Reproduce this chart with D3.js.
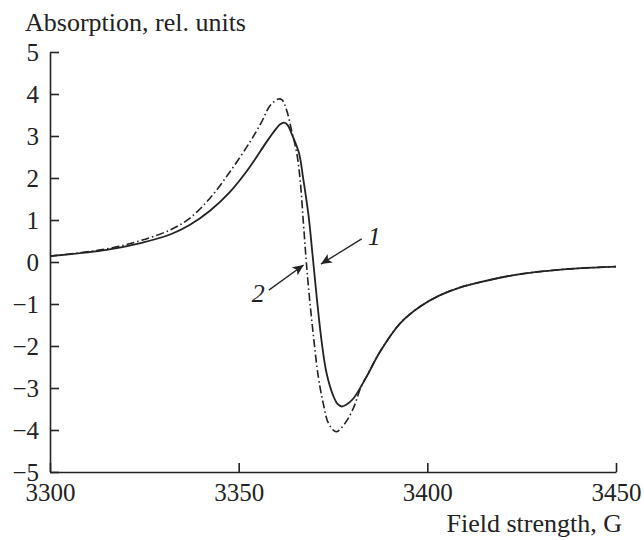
<!DOCTYPE html>
<html>
<head>
<meta charset="utf-8">
<script src="https://cdn.jsdelivr.net/npm/d3@7"></script>
<style>
  body { margin: 0; background: #fff; }
  text { font-family: "Liberation Serif", "Times New Roman", serif; fill: #222; }
  .axis path, .axis line { stroke: #222; stroke-width: 1.6; }
</style>
</head>
<body>
<div id="chart"></div>
<script>
// Data
const xTicks = [3300, 3350, 3400, 3450];
const yTicks = [-5, -4, -3, -2, -1, 0, 1, 2, 3, 4, 5];

// curve 1 (solid)
const field1 = [3300, 3315, 3324, 3332, 3337, 3342.4, 3347.7, 3353, 3357.4, 3360, 3361, 3362, 3363, 3364, 3366, 3367, 3368.5, 3369.6, 3370.7, 3372, 3373.3, 3375, 3376.2, 3377.3, 3378.5, 3380.4, 3383.9, 3387.5, 3392.8, 3398.1, 3403.4, 3408.2, 3414, 3423, 3432, 3440, 3450];
const signal1 = [0.14, 0.29, 0.45, 0.66, 0.88, 1.22, 1.67, 2.27, 2.86, 3.18, 3.28, 3.32, 3.26, 3.06, 2.59, 2.05, 1.12, 0.15, -0.85, -1.9, -2.65, -3.17, -3.38, -3.44, -3.4, -3.25, -2.73, -2.13, -1.46, -1.06, -0.79, -0.62, -0.48, -0.31, -0.21, -0.15, -0.11];

// curve 2 (dash-dot)
const field2 = [3300, 3315, 3324, 3332, 3337, 3342.4, 3347.7, 3353, 3356, 3358.3, 3360.5, 3361.5, 3362.7, 3364, 3365.4, 3366.3, 3367.1, 3367.8, 3368.5, 3369.8, 3371.1, 3372.4, 3373.8, 3375.8, 3378.2, 3380.4, 3382.6, 3383.9, 3387.5, 3392.8, 3398.1, 3403.4, 3408.2, 3414, 3423, 3432, 3440, 3450];
const signal2 = [0.14, 0.31, 0.51, 0.77, 1.04, 1.52, 2.15, 2.86, 3.32, 3.72, 3.88, 3.86, 3.62, 3.14, 2.59, 1.95, 1.0, 0.15, -0.6, -1.75, -2.73, -3.36, -3.84, -4.04, -3.84, -3.48, -2.93, -2.73, -2.13, -1.46, -1.06, -0.79, -0.62, -0.48, -0.31, -0.21, -0.15, -0.11];

// labels with arrows: [label, label x, label y, arrow start x, y, arrow tip x, y]
const callouts = [
  ["1", 3384.2, 0.4, 3382.6, 0.55, 3371.8, -0.05],
  ["2", 3353.5, -0.95, 3358.0, -0.67, 3367.2, -0.07],
];

// Dimensions
let dimensions = {
  width: 644,
  height: 540,
  margins: { top: 52, right: 28, bottom: 68, left: 50 },
  fontSize: 26,
  tickFontSize: 25,
};
dimensions.ctrWidth = dimensions.width - dimensions.margins.left - dimensions.margins.right;
dimensions.ctrHeight = dimensions.height - dimensions.margins.top - dimensions.margins.bottom;

const svg = d3
  .select("#chart")
  .append("svg")
  .attr("width", dimensions.width)
  .attr("height", dimensions.height);

svg.append("defs")
  .append("marker")
  .attr("id", "head")
  .attr("viewBox", "0 0 10 10")
  .attr("refX", 10)
  .attr("refY", 5)
  .attr("markerWidth", 11)
  .attr("markerHeight", 11)
  .attr("markerUnits", "userSpaceOnUse")
  .attr("orient", "auto")
  .append("path")
  .attr("d", "M0,0.5 L10,5 L0,9.5 L2.5,5 Z")
  .attr("fill", "#222");

const ctr = svg
  .append("g")
  .attr("transform", `translate(${dimensions.margins.left}, ${dimensions.margins.top})`);

// Scales
const xScale = d3.scaleLinear().domain([3300, 3450]).range([0, dimensions.ctrWidth]);
const yScale = d3.scaleLinear().domain([-5, 5]).range([dimensions.ctrHeight, 0]);

// Axes (ticks point inwards)
const bottomAxis = d3.axisBottom(xScale)
  .tickValues(xTicks)
  .tickFormat(d3.format("d"))
  .tickSizeInner(-9)
  .tickSizeOuter(0)
  .tickPadding(11);
ctr.append("g")
  .classed("axis", true)
  .attr("transform", `translate(0, ${dimensions.ctrHeight})`)
  .call(bottomAxis);

const leftAxis = d3.axisLeft(yScale)
  .tickValues(yTicks)
  .tickFormat(d3.format("d"))
  .tickSizeInner(-9)
  .tickSizeOuter(0)
  .tickPadding(11);
ctr.append("g")
  .classed("axis", true)
  .call(leftAxis);

ctr.selectAll(".axis")
  .attr("font-family", null)
  .attr("font-size", dimensions.tickFontSize);

// Lines
const line = (xs, ys) =>
  d3.line()
    .x((d, i) => xScale(xs[i]))
    .y((d) => yScale(d))
    .curve(d3.curveCatmullRom.alpha(0.5))(ys);

ctr.append("path")
  .attr("d", line(field2, signal2))
  .attr("fill", "none")
  .attr("stroke", "#222")
  .attr("stroke-width", 1.6)
  .attr("stroke-dasharray", "8 3 1.5 3");

ctr.append("path")
  .attr("d", line(field1, signal1))
  .attr("fill", "none")
  .attr("stroke", "#222")
  .attr("stroke-width", 1.8);

// Callouts
callouts.forEach(([label, lx, ly, x0, y0, x1, y1]) => {
  ctr.append("line")
    .attr("x1", xScale(x0))
    .attr("y1", yScale(y0))
    .attr("x2", xScale(x1))
    .attr("y2", yScale(y1))
    .attr("stroke", "#222")
    .attr("stroke-width", 1.3)
    .attr("marker-end", "url(#head)");
  ctr.append("text")
    .attr("x", xScale(lx))
    .attr("y", yScale(ly))
    .attr("font-size", dimensions.fontSize)
    .attr("font-style", "italic")
    .text(label);
});

// Axis titles
svg.append("text")
  .attr("x", 25)
  .attr("y", 31)
  .attr("font-size", dimensions.fontSize)
  .text("Absorption, rel. units");

svg.append("text")
  .attr("x", 622)
  .attr("y", 532)
  .attr("text-anchor", "end")
  .attr("font-size", dimensions.fontSize)
  .text("Field strength, G");
</script>
</body>
</html>
